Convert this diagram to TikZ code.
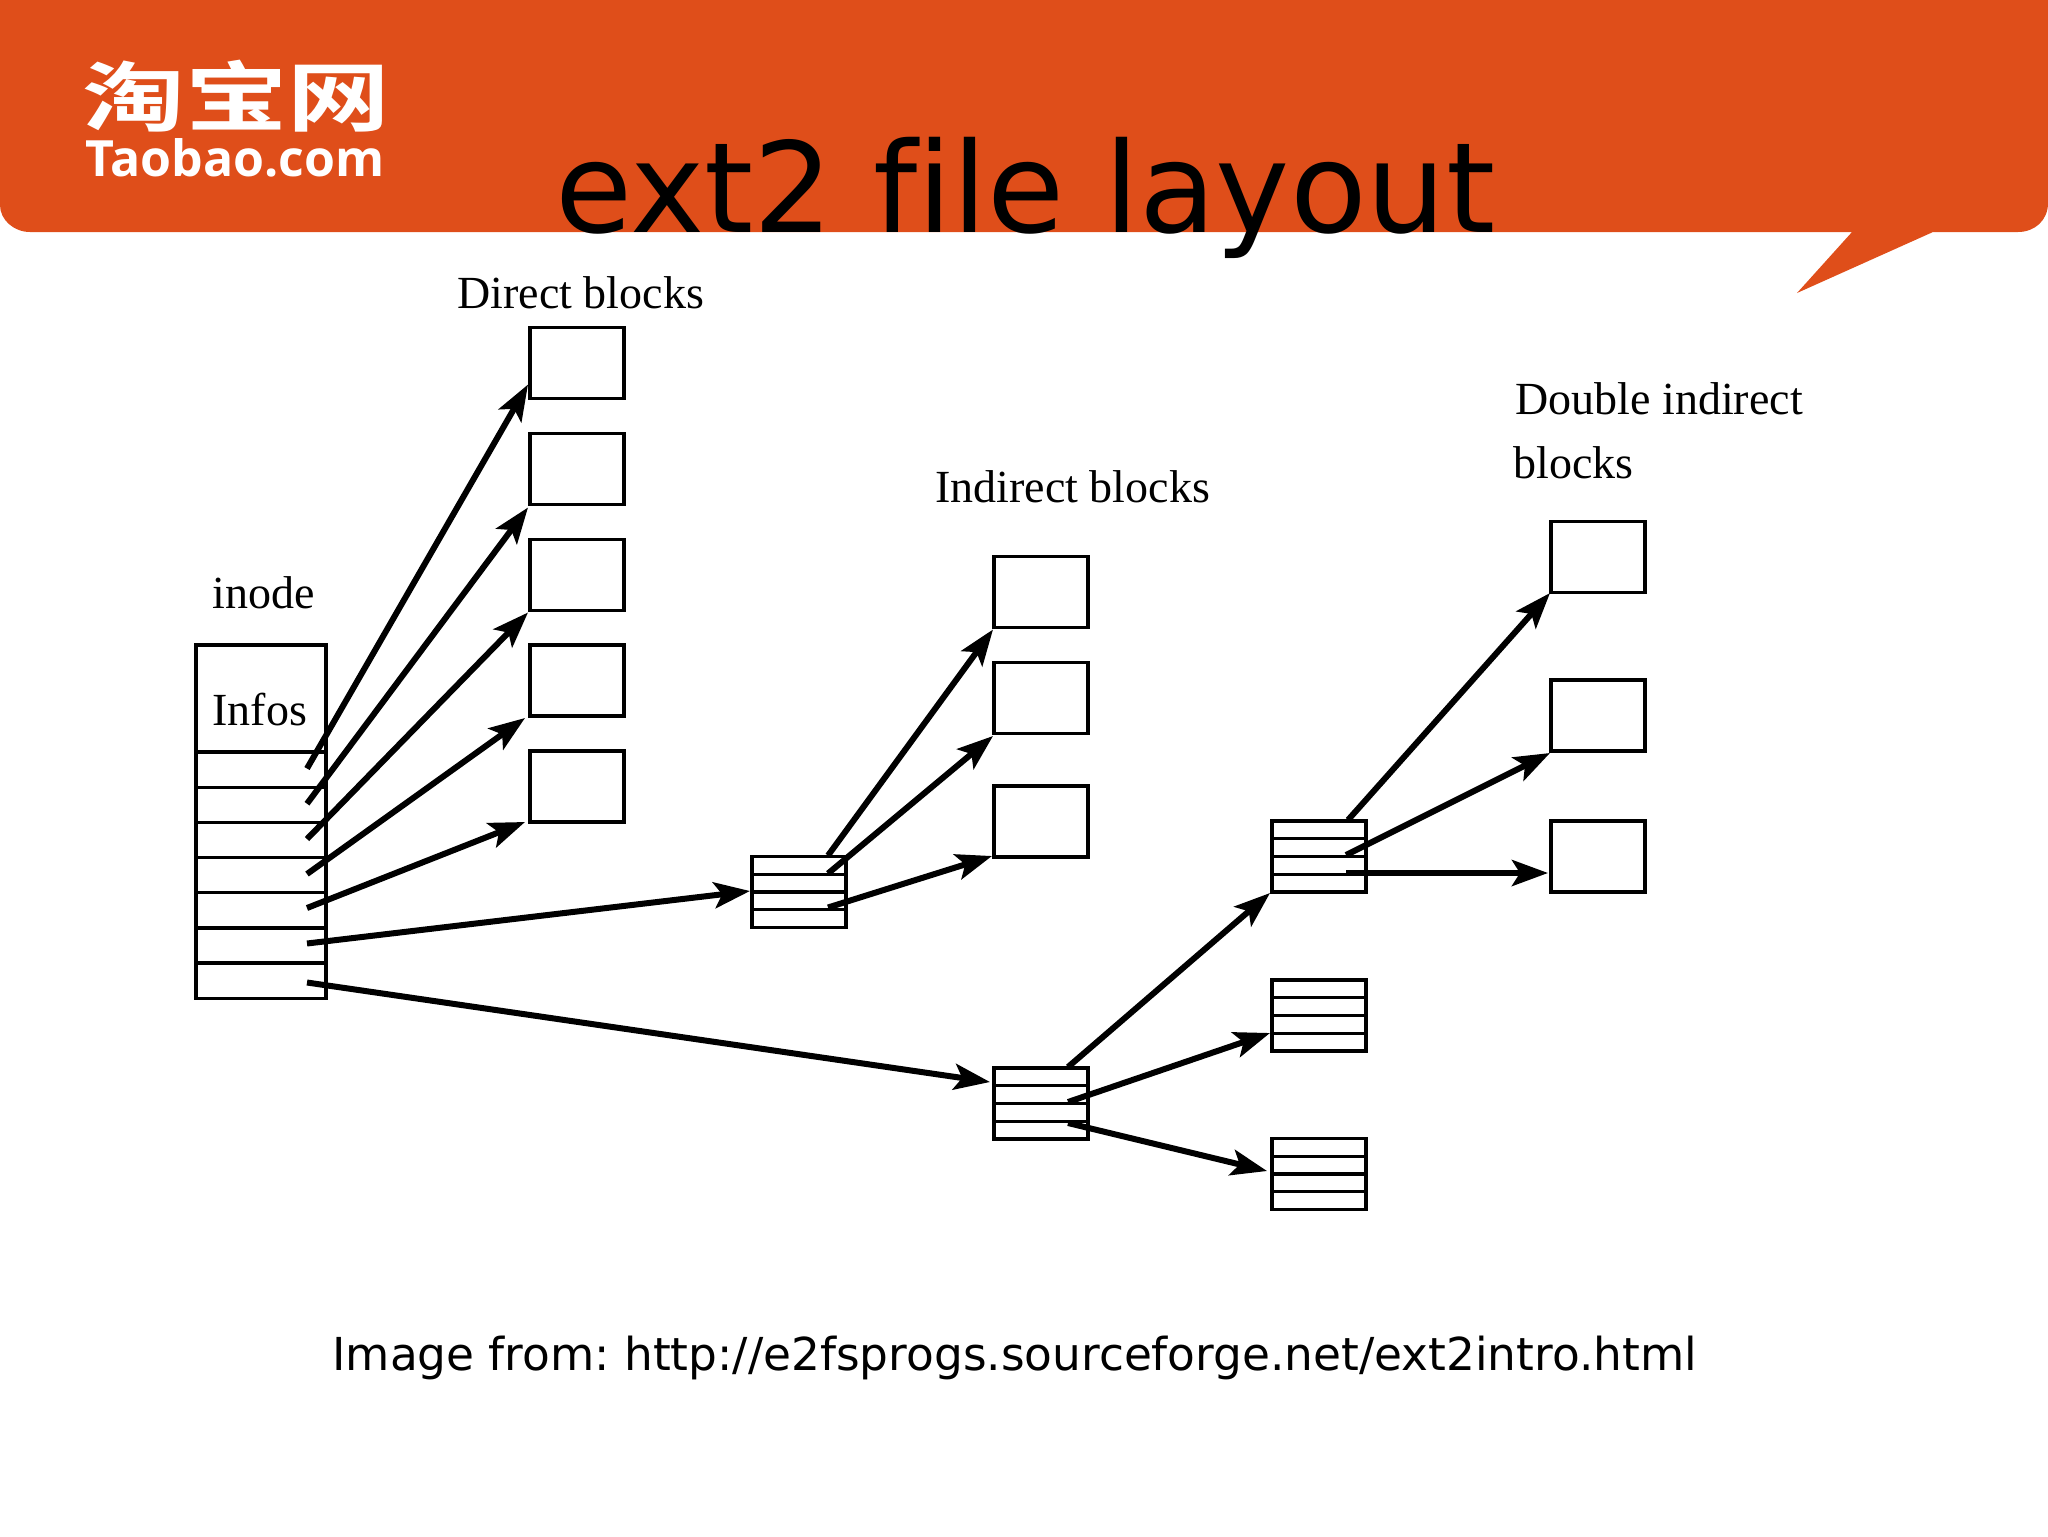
\documentclass[tikz,border=0pt]{standalone}
\usepackage{fontspec}
\setmainfont{DejaVu Sans}
\newfontfamily\titlefont[Ligatures=NoCommon]{DejaVu Sans}
\newfontfamily\labelfont{Liberation Serif}
\newfontfamily\cjklogo{Noto Sans CJK SC Bold}
\newfontfamily\logofont{Open Sans}
\usetikzlibrary{arrows.meta,calc}
\definecolor{banner}{HTML}{DF4E1A}
\tikzset{
  cell/.style={draw=black,line width=1.6pt,fill=white,inner sep=0pt,outer sep=0pt,minimum width=#1},
  row/.style={cell=65pt,minimum height=17.6pt},
  blockbox/.style={cell=47pt,minimum height=35.5pt},
  index/.style={blockbox,path picture={
    \foreach \f in {.25,.5,.75}
      \draw[line width=1.6pt] ($(path picture bounding box.north west)!\f!(path picture bounding box.south west)$) -- ($(path picture bounding box.north east)!\f!(path picture bounding box.south east)$);}},
  link/.style={line width=3pt,-{Stealth[length=18pt,width=13pt,inset=4pt]}},
  lab/.style={font=\labelfont\fontsize{23}{25}\selectfont,anchor=base west,inner sep=0pt},
}
\begin{document}
\frenchspacing
\begin{tikzpicture}[x=0.5pt,y=-0.5pt]
\useasboundingbox (0,0) rectangle (2048,1536);
% banner
\fill[banner] (0,0) -- (2048,0) -- (2048,203) .. controls (2048,220) and (2035,232) .. (2018,232) -- (1933,232) -- (1797,293) -- (1852,232) -- (30,232) .. controls (14,232) and (0,220) .. (0,205) -- cycle;
\node[font=\cjklogo\fontsize{38}{40}\selectfont,text=white,anchor=base west,inner sep=0pt] (logocn) at (82,126) {\scalebox{1.35}[1]{淘宝网}};
\node[font=\logofont\bfseries\fontsize{25}{27}\selectfont,text=white,anchor=base west,inner sep=0pt] (logoen) at (85,176) {Taobao.com};
\node[font=\titlefont\fontsize{62.7}{70}\selectfont,anchor=base west,inner sep=0pt] (title) at (555,232) {ext2 f\kern0pt ile layout};
\node[font=\fontsize{22.7}{26}\selectfont,anchor=base west,inner sep=0pt] (caption) at (332,1370) {Image from: http://e2fsprogs.sourceforge.net/ext2intro.html};
% labels
\node[lab] (ldirect) at (457,308) {Direct blocks};
\node[lab] (lind) at (935,502) {Indirect blocks};
\node[lab] (ldouble) at (1515,414) {Double indirect};
\node[lab] (lblocks) at (1513,478) {blocks};
\node[lab] (linode) at (212,608) {inode};
% inode table
\node[cell=65pt,minimum height=53.5pt] (info) at (261,698.5) {};
\node[lab] (linfos) at (212,725) {Infos};
\node[row] (r1) at (261,769.5) {};
\node[row] (r2) at (261,804.7) {};
\node[row] (r3) at (261,840) {};
\node[row] (r4) at (261,875) {};
\node[row] (r5) at (261,910) {};
\node[row] (r6) at (261,945.5) {};
\node[row] (r7) at (261,980.5) {};
% direct
\node[blockbox] (d1) at (577,363) {};
\node[blockbox] (d2) at (577,469) {};
\node[blockbox] (d3) at (577,575) {};
\node[blockbox] (d4) at (577,680.5) {};
\node[blockbox] (d5) at (577,786.5) {};
% indirect
\node[index] (ia) at (799,892) {};
\node[blockbox] (i1) at (1041,592) {};
\node[blockbox] (i2) at (1041,698) {};
\node[blockbox] (i3) at (1041,821.5) {};
% double
\node[index] (ib) at (1041,1103.5) {};
\node[index] (c1) at (1319,856.5) {};
\node[index] (c2) at (1319,1015.5) {};
\node[index] (c3) at (1319,1174) {};
\node[blockbox] (e1) at (1598,557) {};
\node[blockbox] (e2) at (1598,715.5) {};
\node[blockbox] (e3) at (1598,856.5) {};
% connectors
\draw[link] ([shift={(-19,-1)}]r1.east) -- ([shift={(-2,-14)}]d1.south west);
\draw[link] ([shift={(-19,-1)}]r2.east) -- ([shift={(-2,3)}]d2.south west);
\draw[link] ([shift={(-19,-1)}]r3.east) -- ([shift={(-2,2)}]d3.south west);
\draw[link] ([shift={(-19,-1)}]r4.east) -- ([shift={(-5,2)}]d4.south west);
\draw[link] ([shift={(-19,-2)}]r5.east) -- ([shift={(-5,0)}]d5.south west);
\draw[link] ([shift={(-19,-2)}]r6.east) -- ([shift={(-2,-1)}]ia.west);
\draw[link] ([shift={(-19,2)}]r7.east) -- ([shift={(-4,14)}]ib.north west);
\draw[link] ([shift={(29,-1)}]ia.north) -- ([shift={(-1,2)}]i1.south west);
\draw[link] ([shift={(29,17)}]ia.north) -- ([shift={(-1,2.5)}]i2.south west);
\draw[link] ([shift={(29,-20)}]ia.south) -- ([shift={(-2,-1)}]i3.south west);
\draw[link] ([shift={(27,-1)}]ib.north) -- ([shift={(-2,1)}]c1.south west);
\draw[link] ([shift={(27,34)}]ib.north) -- ([shift={(-2,-18)}]c2.south west);
\draw[link] ([shift={(27,55)}]ib.north) -- ([shift={(-5,32.5)}]c3.north west);
\draw[link] ([shift={(29,-1)}]c1.north) -- ([shift={(-1,0.5)}]e1.south west);
\draw[link] ([shift={(27,34)}]c1.north) -- ([shift={(-1,2)}]e2.south west);
\draw[link] ([shift={(27,52)}]c1.north) -- ([shift={(-3,16.5)}]e3.west);
\end{tikzpicture}
\end{document}
